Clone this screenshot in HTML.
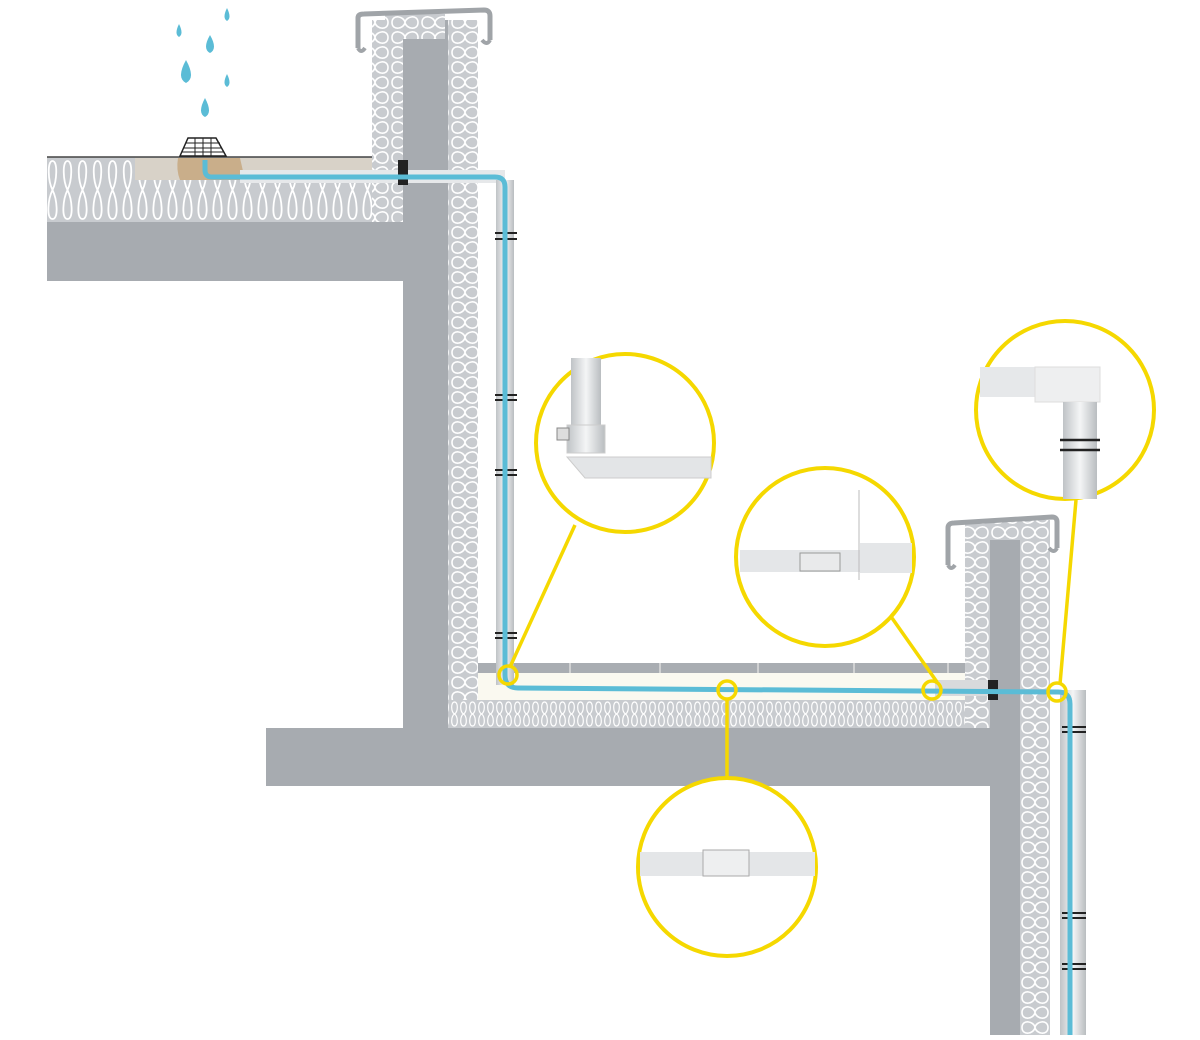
<!DOCTYPE html>
<html><head><meta charset="utf-8"><style>html,body{margin:0;padding:0;background:#fff}svg{display:block}</style></head>
<body>
<svg width="1200" height="1040" viewBox="0 0 1200 1040" xmlns="http://www.w3.org/2000/svg">
<defs>
<pattern id="iv" width="30" height="15" patternUnits="userSpaceOnUse">
<rect width="30" height="15" fill="#c8cbcf"/>
<path d="M2,7.5 C2,-1 14,1 15,7.5 C16,14 28,16 28,7.5 C28,-1 16,1 15,7.5 C14,14 2,16 2,7.5Z" fill="none" stroke="#fff" stroke-width="1.6"/>
</pattern>
<pattern id="ih" width="15" height="66" patternUnits="userSpaceOnUse" y="157">
<rect width="15" height="66" fill="#c8cbcf"/>
<path d="M7.5,4 C2,4 3,24 7.5,33 C12,42 14,62 7.5,62 C1,62 3,42 7.5,33 C12,24 13,4 7.5,4Z" fill="none" stroke="#fff" stroke-width="1.8"/>
</pattern>
<pattern id="ih2" width="9" height="28" patternUnits="userSpaceOnUse" y="700">
<rect width="9" height="28" fill="#c8cbcf"/>
<path d="M4.5,2 C0.5,2 1,12 4.5,14 C8,16 8.5,26 4.5,26 C0.5,26 1,16 4.5,14 C8,12 8.5,2 4.5,2Z" fill="none" stroke="#fff" stroke-width="1.2"/>
</pattern>
<linearGradient id="pp" x1="0" y1="0" x2="1" y2="0"><stop offset="0" stop-color="#bfc3c6"/><stop offset="0.5" stop-color="#f4f5f6"/><stop offset="1" stop-color="#b9bdc0"/></linearGradient>
</defs>

<rect x="47" y="157" width="356" height="66" fill="url(#ih)"/>
<line x1="47" y1="157" x2="372" y2="157" stroke="#444" stroke-width="1.5"/>
<rect x="47" y="222" width="356" height="59" fill="#a7abb0"/>
<rect x="135" y="158" width="268" height="22" fill="#d8d2c8"/>
<path d="M178,158 L240,158 L245,180 L180,180 Q176,170 178,158Z" fill="#c9ae8a"/>
<path d="M180,156 L188,138 L216,138 L226,156Z" fill="#fff" stroke="#222" stroke-width="1.5"/>
<path d="M186,143 H220 M184,148 H222 M182,152 H224 M195,138 V156 M203,138 V156 M211,138 V156" stroke="#222" stroke-width="1"/>

<rect x="372" y="20" width="31" height="202" fill="url(#iv)"/>
<rect x="403" y="20" width="45" height="708" fill="#a7abb0"/>
<rect x="448" y="20" width="30" height="680" fill="url(#iv)"/>
<rect x="385" y="14" width="60" height="25" fill="url(#iv)"/>
<path d="M358,48 L358,18 Q358,14 364,14 L484,10 Q490,10 490,16 L490,40" fill="none" stroke="#a0a4a8" stroke-width="5"/>
<path d="M358,48 q3,6 7,0 M490,40 q-3,6 -8,0" fill="none" stroke="#a0a4a8" stroke-width="4"/>

<rect x="266" y="728" width="724" height="58" fill="#a7abb0"/>
<rect x="448" y="700" width="517" height="28" fill="url(#ih2)"/>
<rect x="478" y="673" width="487" height="27" fill="#faf9f0"/>
<rect x="478" y="663" width="487" height="10" fill="#a9adb2"/>
<path d="M570,663 V673 M660,663 V673 M758,663 V673 M854,663 V673 M948,663 V673" stroke="#ddd" stroke-width="1.5"/>

<rect x="965" y="530" width="28" height="198" fill="url(#iv)"/>
<rect x="990" y="530" width="30" height="505" fill="#a7abb0"/>
<rect x="1020" y="530" width="30" height="505" fill="url(#iv)"/>
<rect x="965" y="520" width="85" height="20" fill="url(#iv)"/>
<path d="M948,565 L948,528 Q948,523 954,523 L1052,517 Q1057,517 1057,522 L1057,548" fill="none" stroke="#a0a4a8" stroke-width="5"/>
<path d="M948,565 q3,6 7,0 M1057,548 q-3,6 -8,0" fill="none" stroke="#a0a4a8" stroke-width="4"/>

<rect x="240" y="170" width="265" height="13" fill="#e6e8ea"/>
<rect x="496" y="180" width="18" height="505" fill="url(#pp)"/>
<rect x="1060" y="690" width="26" height="345" fill="url(#pp)"/>
<rect x="935" y="680" width="60" height="16" fill="#d8dadc"/>
<g stroke="#222" stroke-width="2" fill="none">
<path d="M495,233 h22 M495,239 h22 M495,395 h22 M495,400 h22 M495,470 h22 M495,475 h22 M495,633 h22 M495,638 h22"/>
<path d="M1062,727 h24 M1062,732 h24 M1062,913 h24 M1062,918 h24 M1062,964 h24 M1062,969 h24"/>
</g>
<rect x="398" y="160" width="10" height="25" fill="#222"/>
<rect x="988" y="680" width="10" height="20" fill="#222"/>

<path d="M205,160 V170 Q205,177 212,177 H495 Q505,177 505,187 V675 Q505,688 518,688 L1058,692 Q1070,692 1070,704 V1035" fill="none" stroke="#5bbcd6" stroke-width="5"/>

<g fill="#5bbcd6">
<path d="M179,24 q-5,10 0,13 q5,-3 0,-13Z"/>
<path d="M227,8 q-5,10 0,13 q5,-3 0,-13Z"/>
<path d="M210,35 q-8,14 0,18 q8,-4 0,-18Z"/>
<path d="M186,60 q-10,18 0,23 q10,-5 0,-23Z"/>
<path d="M227,74 q-5,10 0,13 q5,-3 0,-13Z"/>
<path d="M205,98 q-8,15 0,19 q8,-4 0,-19Z"/>
</g>

<g stroke="#f5d800" stroke-width="3.5" fill="none">
<line x1="510" y1="667" x2="575" y2="525"/>
<line x1="937" y1="682" x2="892" y2="618"/>
<line x1="1060" y1="684" x2="1076" y2="500"/>
<line x1="727" y1="698" x2="727" y2="778"/>
<circle cx="508" cy="675" r="9"/>
<circle cx="727" cy="690" r="9"/>
<circle cx="932" cy="690" r="9"/>
<circle cx="1057" cy="692" r="9"/>
</g>

<g stroke="#f5d800" stroke-width="4">
<circle cx="625" cy="443" r="89" fill="#fff"/>
<circle cx="825" cy="557" r="89" fill="#fff"/>
<circle cx="1065" cy="410" r="89" fill="#fff"/>
<circle cx="727" cy="867" r="89" fill="#fff"/>
</g>
<rect x="571" y="358" width="30" height="70" fill="url(#pp)"/>
<rect x="567" y="425" width="38" height="28" fill="url(#pp)" stroke="#ccc"/>
<path d="M567,457 L711,457 L711,478 L585,478Z" fill="#e3e5e7" stroke="#ccc"/>
<rect x="557" y="428" width="12" height="12" fill="#ddd" stroke="#888"/>
<rect x="740" y="550" width="120" height="22" fill="#e4e6e8"/>
<rect x="860" y="543" width="52" height="30" fill="#e4e6e8"/>
<line x1="859" y1="490" x2="859" y2="580" stroke="#bbb"/>
<rect x="800" y="553" width="40" height="18" fill="#e9eaeb" stroke="#999"/>
<rect x="980" y="367" width="60" height="30" fill="#e6e8ea"/>
<rect x="1035" y="367" width="65" height="35" fill="#eeeff0" stroke="#ddd"/>
<rect x="1063" y="402" width="34" height="97" fill="url(#pp)"/>
<path d="M1060,440 h40 M1060,450 h40" stroke="#222" stroke-width="2.5"/>
<rect x="640" y="852" width="175" height="24" fill="#e4e6e8"/>
<rect x="703" y="850" width="46" height="26" fill="#eeeff0" stroke="#aaa"/>
</svg>
</body></html>
